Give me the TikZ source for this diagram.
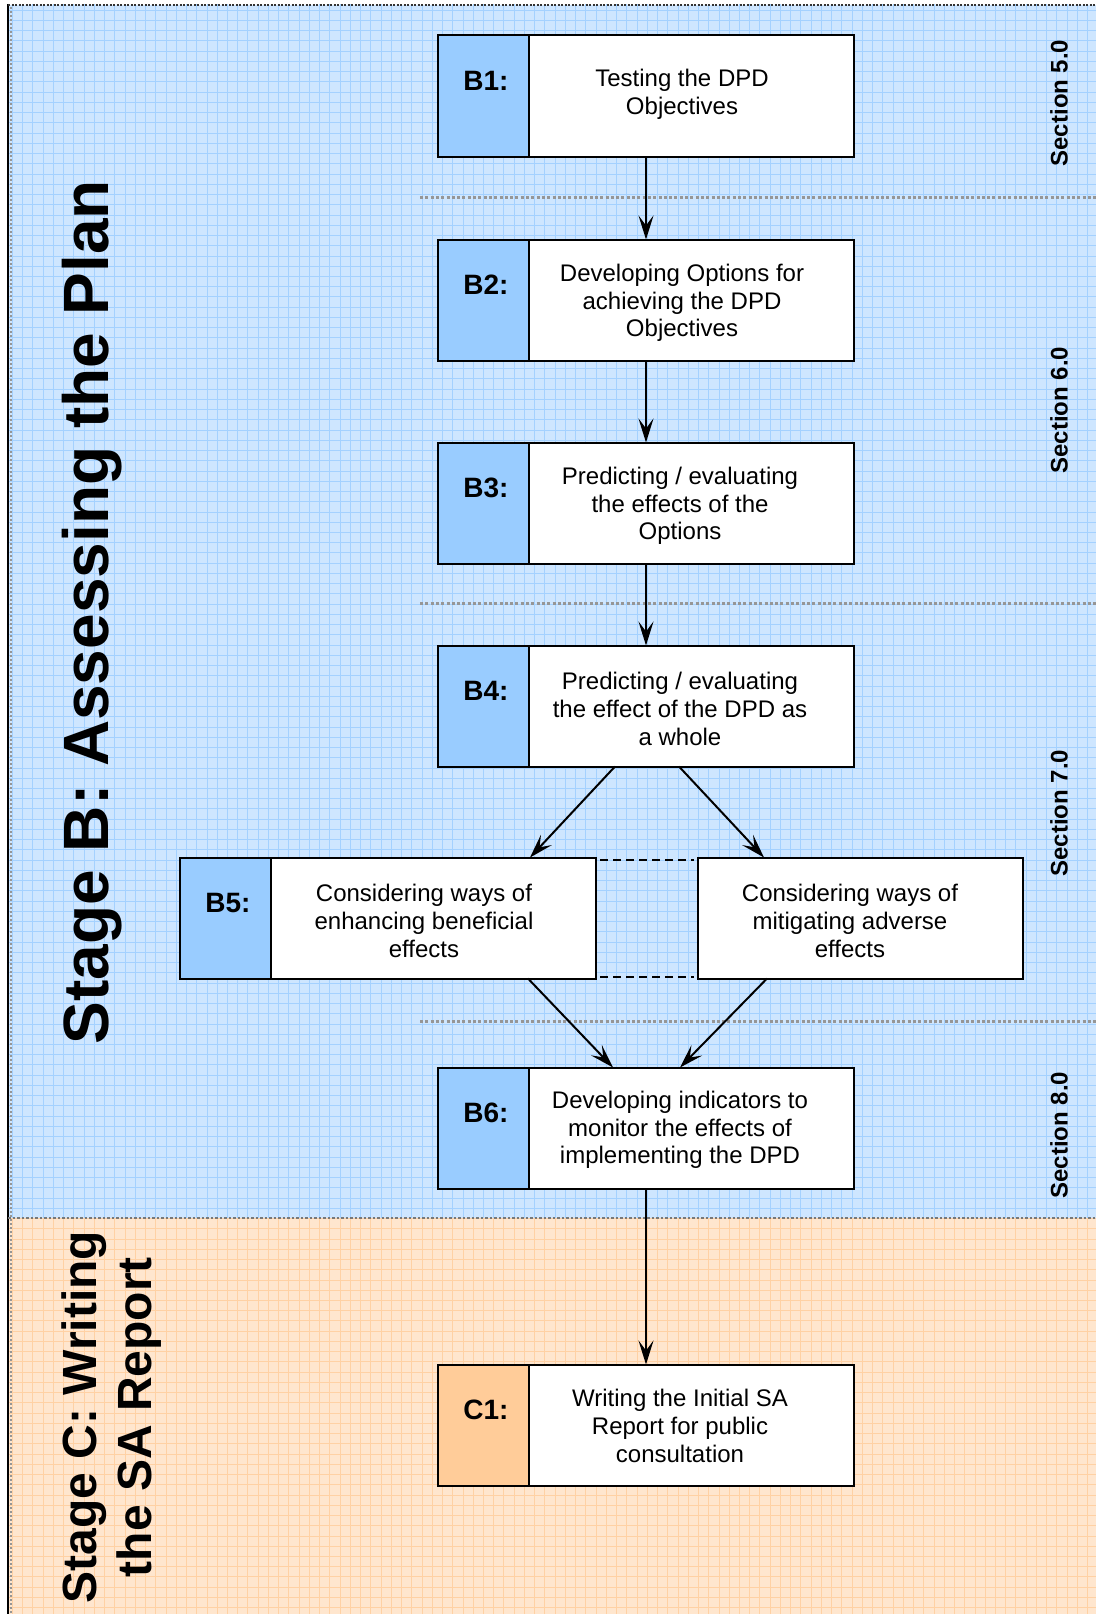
\documentclass[tikz,border=0pt]{standalone}
\usepackage{fontspec}
\setmainfont{Liberation Sans}
\usetikzlibrary{arrows.meta}
\definecolor{bluebg}{RGB}{206,230,255}
\definecolor{blueline}{RGB}{164,209,255}
\definecolor{bluelab}{RGB}{153,204,255}
\definecolor{orangebg}{RGB}{255,230,206}
\definecolor{orangeline}{RGB}{255,209,164}
\definecolor{orangelab}{RGB}{255,204,153}
\definecolor{sepgray}{RGB}{150,150,150}
\tikzset{
  stagebox/.style={draw, line width=2bp, fill=white, minimum width=416bp,
    minimum height=121bp, inner sep=0pt, outer sep=0pt},
  sidebox/.style={stagebox, minimum width=325bp},
  labpart/.style={draw, line width=2bp},
  labtxt/.style={font=\bfseries\fontsize{28bp}{30bp}\selectfont, inner sep=0pt},
  boxtxt/.style={align=center, inner sep=0pt, font=\fontsize{24bp}{27.6bp}\selectfont},
  sectxt/.style={rotate=90, inner sep=0pt, font=\bfseries\fontsize{24bp}{24bp}\selectfont},
  flow/.style={line width=2bp, -{Stealth[length=24bp, width=15bp, inset=10bp]}},
  sepline/.style={sepgray, line width=3bp, dash pattern=on 3bp off 2.3bp},
  twin/.style={line width=2bp, dash pattern=on 8bp off 5bp}
}
\begin{document}
\begin{tikzpicture}[x=1bp, y=-1bp]
\useasboundingbox (0,0) rectangle (1096,1614);
\fill[white] (0,0) rectangle (1096,1614);

% stage backgrounds with graph-paper grid
\fill[bluebg] (8,5) rectangle (1096,1218);
\fill[orangebg] (8,1218) rectangle (1096,1614);
\begin{scope}
  \clip (8,5) rectangle (1096,1218);
  \foreach \i in {0,...,107} \draw[blueline, line width=1bp] ({2.2+\i*10.24},0) -- ++(0,1614);
  \foreach \j in {0,...,158} \draw[blueline, line width=1bp] (0,{\j*10.24}) -- ++(1096,0);
\end{scope}
\begin{scope}
  \clip (8,1218) rectangle (1096,1614);
  \foreach \i in {0,...,107} \draw[orangeline, line width=1bp] ({2.2+\i*10.24},0) -- ++(0,1614);
  \foreach \j in {0,...,158} \draw[orangeline, line width=1bp] (0,{\j*10.24}) -- ++(1096,0);
\end{scope}

% frame
\draw[black, line width=2bp] (8,4) -- (8,1614);
\draw[sepgray, line width=2bp, dash pattern=on 2bp off 2bp] (11,7) -- (11,1614);
\draw[black!80, line width=2bp, dash pattern=on 2bp off 1.5bp] (8,5) -- (1096,5);
\draw[sepgray!80!black, line width=2.5bp, dash pattern=on 2.5bp off 2bp] (8,1218) -- (1096,1218);

% section separators
\draw[sepline] (420,197) -- (1096,197);
\draw[sepline] (420,603) -- (1096,603);
\draw[sepline] (420,1021) -- (1096,1021);

% section labels
\node[sectxt] (s5) at (1059,103) {Section 5.0};
\node[sectxt] (s6) at (1059,410) {Section 6.0};
\node[sectxt] (s7) at (1059,813) {Section 7.0};
\node[sectxt] (s8) at (1059,1135) {Section 8.0};

% stage titles
\node[rotate=90, anchor=base, inner sep=0pt, font=\bfseries\fontsize{64bp}{64bp}\selectfont]
  (stageB) at (108,612) {Stage B: Assessing the Plan};
\node[rotate=90, anchor=base, inner sep=0pt, font=\bfseries\fontsize{48bp}{48bp}\selectfont]
  (stageC1) at (96,1417) {Stage C: Writing};
\node[rotate=90, anchor=base, inner sep=0pt, font=\bfseries\fontsize{48bp}{48bp}\selectfont]
  (stageC2) at (151,1417) {the SA Report};

% process boxes
\node[stagebox] (b1) at (646,96) {};
\node[stagebox] (b2) at (646,300) {};
\node[stagebox] (b3) at (646,503) {};
\node[stagebox] (b4) at (646,706) {};
\node[stagebox] (b5) at (388,918) {};
\node[sidebox]  (b5m) at (860,918) {};
\node[stagebox] (b6) at (646,1128) {};
\node[stagebox] (c1) at (646,1425) {};

% label strips
\foreach \b in {b1,b2,b3,b4,b5,b6}
  \draw[labpart, fill=bluelab] (\b.north west) rectangle ([xshift=91bp]\b.south west);
\draw[labpart, fill=orangelab] (c1.north west) rectangle ([xshift=91bp]c1.south west);

\node[labtxt] (b1l) at ([xshift=48bp, yshift=-45bp]b1.north west) {B1:};
\node[labtxt] (b2l) at ([xshift=48bp, yshift=-45bp]b2.north west) {B2:};
\node[labtxt] (b3l) at ([xshift=48bp, yshift=-45bp]b3.north west) {B3:};
\node[labtxt] (b4l) at ([xshift=48bp, yshift=-45bp]b4.north west) {B4:};
\node[labtxt] (b5l) at ([xshift=48bp, yshift=-45bp]b5.north west) {B5:};
\node[labtxt] (b6l) at ([xshift=48bp, yshift=-45bp]b6.north west) {B6:};
\node[labtxt] (c1l) at ([xshift=48bp, yshift=-45bp]c1.north west) {C1:};

% box texts
\node[boxtxt] (b1t) at (682,94) {Testing the DPD\\Objectives};
\node[boxtxt] (b2t) at (682,303) {Developing Options for\\achieving the DPD\\Objectives};
\node[boxtxt] (b3t) at (680,506) {Predicting / evaluating\\the effects of the\\Options};
\node[boxtxt] (b4t) at (680,709) {Predicting / evaluating\\the effect of the DPD as\\a whole};
\node[boxtxt] (b5t) at (424,921) {Considering ways of\\enhancing beneficial\\effects};
\node[boxtxt] (b5mt) at (850,921) {Considering ways of\\mitigating adverse\\effects};
\node[boxtxt] (b6t) at (680,1130) {Developing indicators to\\monitor the effects of\\implementing the DPD};
\node[boxtxt] (c1t) at (680,1426) {Writing the Initial SA\\Report for public\\consultation};

% flow connectors
\draw[flow] (b1.south) -- (b2.north);
\draw[flow] (b2.south) -- (b3.north);
\draw[flow] (b3.south) -- (b4.north);
\draw[flow] ([xshift=-31bp]b4.south) -- ([xshift=142bp]b5.north);
\draw[flow] ([xshift=33bp]b4.south) -- ([xshift=-96bp]b5m.north);
\draw[flow] ([xshift=140bp]b5.south) -- ([xshift=-33bp]b6.north);
\draw[flow] ([xshift=-93bp]b5m.south) -- ([xshift=34bp]b6.north);
\draw[flow] (b6.south) -- (c1.north);

% paired options
\draw[twin] ([xshift=4bp, yshift=-2bp]b5.north east) -- ([xshift=-4bp, yshift=-2bp]b5m.north west);
\draw[twin] ([xshift=4bp, yshift=2bp]b5.south east) -- ([xshift=-4bp, yshift=2bp]b5m.south west);
\end{tikzpicture}
\end{document}
